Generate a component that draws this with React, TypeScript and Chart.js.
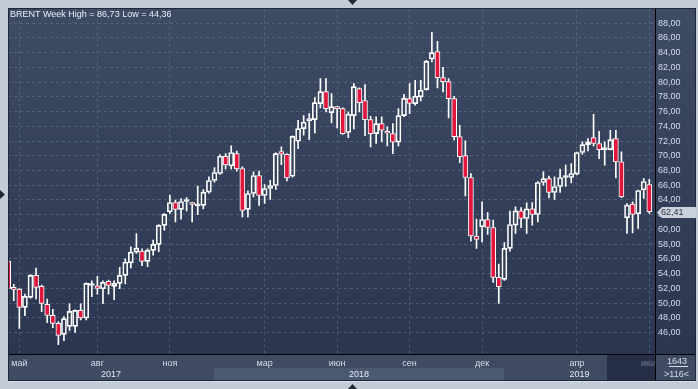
import React, { useEffect, useRef } from 'react';
import { Chart, registerables } from 'chart.js';

Chart.register(...registerables);

// ---- data (weekly Brent candles, index 0 = first visible week) ----
const opens = [
  55.7, 52.15, 51.92, 49.44, 50.79, 53.77, 52.28, 49.84, 48.35, 47.27,
  45.78, 46.86, 46.86, 49.03, 47.99, 52.4, 52.37, 51.96, 52.96, 52.28,
  52.69, 53.77, 55.48, 56.93, 57.07, 55.67, 57.16, 57.97, 60.55, 62.4,
  63.66, 62.72, 63.8, 63.66, 63.2, 63.26, 65.06, 66.64, 67.59, 69.94,
  68.63, 70.3, 68.27, 62.72, 64.88, 67.32, 64.61, 65.56, 65.97, 70.57,
  70.21, 67.22, 71.97, 73.69, 74.73, 74.91, 77.08, 78.7, 75.86, 76.63,
  76.4, 73.15, 75.45, 79.11, 77.48, 74.91, 73.01, 74.37, 73.33, 73.01,
  71.84, 75.45, 77.75, 77.08, 77.98, 78.97, 83.13, 84.12, 80.6, 80.06,
  77.75, 72.6, 70.03, 67.05, 59.1, 60.36, 61.36, 60.27, 53.5, 53.23,
  57.43, 60.59, 62.53, 61.49, 62.8, 62.03, 66.37, 66.91, 65.02, 65.83,
  67.05, 67.05, 67.5, 70.44, 71.52, 72.47, 71.66, 70.84, 70.84, 72.33,
  69.17, 61.58, 63.44, 62.12, 65.38, 66.1,
];
const highs = [
  56.0, 52.55, 52.0, 51.24, 53.9, 54.77, 52.46, 50.57, 49.17, 47.5,
  48.17, 49.93, 49.1, 49.93, 52.75, 53.05, 53.64, 53.05, 53.14, 53.05,
  54.86, 56.03, 57.66, 59.46, 57.39, 57.39, 58.56, 60.68, 62.17, 64.66,
  63.98, 64.2, 64.34, 63.7, 65.88, 65.43, 67.14, 68.41, 70.17, 70.3,
  71.34, 70.62, 68.5, 65.24, 67.82, 67.91, 66.1, 66.68, 70.4, 71.2,
  70.3, 72.7, 74.81, 75.45, 75.72, 77.89, 80.47, 80.47, 78.43, 76.7,
  76.5, 75.95, 79.79, 79.2, 79.65, 75.36, 75.27, 75.27, 73.92, 74.37,
  76.4, 78.32, 79.79, 80.24, 80.24, 82.95, 86.73, 85.52, 82.0, 80.46,
  78.07, 74.14, 72.02, 67.59, 61.4, 63.75, 62.31, 61.27, 55.31, 58.24,
  62.49, 63.07, 62.98, 63.62, 63.66, 66.5, 67.82, 67.23, 67.14, 68.18,
  68.72, 68.95, 70.5, 71.88, 72.33, 75.63, 73.33, 71.88, 73.46, 73.46,
  70.53, 63.53, 63.75, 65.35, 66.91, 66.82,
];
const lows = [
  51.8, 50.34, 46.59, 48.31, 50.7, 50.57, 48.85, 47.36, 46.68, 44.36,
  44.92, 46.32, 46.05, 47.72, 47.72, 50.88, 51.24, 49.93, 51.24, 50.47,
  51.96, 52.6, 54.77, 56.75, 55.08, 54.95, 56.53, 56.98, 59.92, 62.17,
  61.04, 61.41, 62.53, 61.04, 62.0, 62.8, 64.93, 66.42, 67.46, 68.23,
  68.23, 67.91, 61.72, 61.72, 64.43, 63.26, 63.53, 64.07, 65.42, 68.8,
  66.6, 67.1, 70.97, 72.78, 72.2, 73.1, 76.49, 75.95, 74.46, 73.78,
  72.9, 72.47, 73.65, 75.95, 72.74, 71.21, 71.66, 71.88, 71.34, 70.3,
  71.34, 75.3, 75.72, 76.85, 77.44, 78.9, 82.72, 79.2, 78.66, 75.13,
  72.15, 69.08, 64.56, 58.42, 57.43, 58.33, 59.33, 52.82, 49.98, 53.1,
  57.07, 59.46, 60.23, 59.46, 60.59, 61.04, 66.01, 64.29, 64.07, 65.02,
  65.83, 66.33, 67.4, 70.21, 70.66, 71.34, 69.62, 68.72, 70.8, 67.0,
  64.3, 59.46, 59.55, 60.14, 64.2, 62.17,
];
const closes = [
  52.0, 51.87, 49.44, 50.93, 53.77, 52.15, 49.98, 48.35, 47.27, 45.64,
  47.9, 48.89, 49.03, 47.99, 52.69, 52.55, 52.0, 52.82, 52.42, 52.69,
  53.77, 55.58, 56.93, 57.48, 55.67, 57.16, 57.97, 60.55, 62.04, 63.66,
  62.72, 63.8, 63.85, 63.39, 63.25, 65.06, 66.64, 67.73, 69.94, 68.77,
  70.44, 68.23, 62.58, 64.88, 67.32, 64.61, 65.56, 65.97, 70.3, 70.21,
  67.0, 72.64, 73.69, 74.55, 75.05, 77.21, 78.7, 76.4, 76.67, 76.4,
  73.01, 75.63, 79.38, 77.21, 74.91, 73.01, 74.37, 73.46, 73.06, 71.84,
  75.45, 77.78, 77.1, 78.07, 78.88, 82.81, 83.99, 80.6, 80.06, 77.75,
  72.6, 69.89, 67.05, 59.14, 58.65, 61.36, 60.27, 53.5, 52.23, 57.43,
  60.68, 62.53, 61.49, 62.8, 62.03, 66.37, 66.91, 65.02, 65.83, 67.05,
  67.1, 67.59, 70.44, 71.52, 71.88, 71.66, 70.84, 70.9, 72.2, 69.17,
  64.43, 63.3, 62.03, 65.29, 66.51, 62.41,
];

const monthTickIdx = [2, 16, 29, 46, 59, 72, 85, 102, 115];
const monthTickLabels = ['май', 'авг', 'ноя', 'мар', 'июн', 'сен', 'дек', 'апр', 'июл'];
const yearLabels = ['2017', '2018', '2019'];
const yearBandStart = [-0.04, 36.9, 88.9];
const yearBandEnd = [36.9, 88.9, 116.02];
const yTickValues = [46, 48, 50, 52, 54, 56, 58, 60, 62, 64, 66, 68, 70, 72, 74, 76, 78, 80, 82, 84, 86, 88];
const titleText = 'BRENT Week High = 86,73 Low = 44,36';
const totalBarsText = '1643';
const visibleBarsText = '>116<';

// ---- styles ----
const FONT = '"Liberation Sans", Arial, sans-serif';
const RED = '#e0163c';
const GRID = 'rgba(120,135,160,0.42)';
const LABEL = '#d3ddeb';
const OUTER = '#c4ccd8';
const AXIS_BG = '#3f4b63';
const YEAR_HI = '#4c5972';
const DARK = '#262f47';

const fmt = (v: number) => v.toFixed(2).replace('.', ',');

const framePlugin = {
  id: 'frame',
  beforeDraw(chart: any) {
    const { ctx } = chart;
    const xs = chart.scales.x;
    ctx.save();
    ctx.fillStyle = OUTER;
    ctx.fillRect(0, 0, 698, 389);
    // panel gradient
    const g = ctx.createLinearGradient(0, 8, 0, 354);
    g.addColorStop(0, '#3e4b64');
    g.addColorStop(1, '#2b3651');
    ctx.fillStyle = g;
    ctx.fillRect(8, 8, 688, 346);
    // bottom axis area
    ctx.fillStyle = AXIS_BG;
    ctx.fillRect(8, 354, 688, 27);
    // year band
    for (let k = 0; k < yearLabels.length; k++) {
      const x0 = Math.max(8, Math.round(xs.getPixelForValue(yearBandStart[k])));
      const x1 = Math.min(655, Math.round(xs.getPixelForValue(yearBandEnd[k])));
      if (k % 2 === 1) {
        ctx.fillStyle = YEAR_HI;
        ctx.fillRect(x0, 368, x1 - x0, 13);
      }
      ctx.fillStyle = '#e4ebf5';
      ctx.font = `9px ${FONT}`;
      ctx.textAlign = 'center';
      ctx.textBaseline = 'middle';
      ctx.fillText(yearLabels[k], (x0 + x1) / 2, 374.5);
    }
    // dark scroller region
    ctx.fillStyle = DARK;
    ctx.fillRect(607, 355, 48, 26);
    // light line below panel
    ctx.fillStyle = '#d6dde7';
    ctx.fillRect(8, 381, 688, 1);
    // triangles
    ctx.fillStyle = '#1f2736';
    ctx.beginPath();
    ctx.moveTo(348, 0); ctx.lineTo(357, 0); ctx.lineTo(352.5, 5); ctx.closePath(); ctx.fill();
    ctx.beginPath();
    ctx.moveTo(348, 389); ctx.lineTo(357, 389); ctx.lineTo(352.5, 384); ctx.closePath(); ctx.fill();
    ctx.beginPath();
    ctx.moveTo(0, 190); ctx.lineTo(0, 199); ctx.lineTo(5, 194.5); ctx.closePath(); ctx.fill();
    ctx.restore();
  },
  afterDraw(chart: any) {
    const { ctx } = chart;
    const ys = chart.scales.y;
    ctx.save();
    // corner box
    ctx.fillStyle = AXIS_BG;
    ctx.fillRect(656, 355, 40, 26);
    ctx.fillStyle = LABEL;
    ctx.font = `9px ${FONT}`;
    ctx.textAlign = 'center';
    ctx.textBaseline = 'middle';
    ctx.fillText(totalBarsText, 677, 361.5);
    ctx.fillRect(669, 366, 19, 1);
    ctx.fillText(visibleBarsText, 676.5, 374.5);
    // axis lines
    ctx.fillStyle = '#000000';
    ctx.fillRect(8, 354, 688, 1);
    ctx.fillRect(655, 8, 1, 373);
    // panel border
    ctx.strokeStyle = '#1f2738';
    ctx.lineWidth = 1;
    ctx.strokeRect(8.5, 8.5, 687, 372);
    // title
    ctx.fillStyle = '#e8eef6';
    ctx.textAlign = 'left';
    ctx.fillText(titleText, 10, 15);
    // last price marker
    const last = closes[closes.length - 1];
    const y = Math.round(ys.getPixelForValue(last)) + 0.5;
    ctx.fillStyle = '#ccd2db';
    ctx.beginPath();
    ctx.moveTo(657, y);
    ctx.lineTo(662, y - 5.5);
    ctx.lineTo(696, y - 5.5);
    ctx.lineTo(696, y + 5.5);
    ctx.lineTo(662, y + 5.5);
    ctx.closePath();
    ctx.fill();
    ctx.fillStyle = '#2c3340';
    ctx.textAlign = 'left';
    ctx.fillText(fmt(last), 661, y);
    ctx.restore();
  },
};

export default function App() {
  const ref = useRef<HTMLCanvasElement>(null);
  useEffect(() => {
    const canvas = ref.current;
    if (!canvas) return;
    const idx = closes.map((_, i) => i);
    const bodies = idx.map((i) => ({ x: i, y: [opens[i], closes[i]] }));
    const upper = idx.map((i) => ({ x: i, y: [Math.max(opens[i], closes[i]), highs[i]] }));
    const lower = idx.map((i) => ({ x: i, y: [lows[i], Math.min(opens[i], closes[i])] }));
    const chart = new Chart(canvas, {
      type: 'bar',
      data: {
        datasets: [
          {
            data: bodies as any,
            order: 0,
            barThickness: 5,
            minBarLength: 2,
            backgroundColor: idx.map((i) => (closes[i] < opens[i] ? RED : 'rgba(0,0,0,0)')),
            borderColor: '#ffffff',
            borderWidth: 1,
            borderSkipped: false,
            grouped: false,
            clip: 0,
          } as any,
          {
            data: upper as any,
            order: 1,
            barThickness: 1,
            backgroundColor: '#ffffff',
            borderWidth: 0,
            grouped: false,
            clip: 0,
          } as any,
          {
            data: lower as any,
            order: 1,
            barThickness: 1,
            backgroundColor: '#ffffff',
            borderWidth: 0,
            grouped: false,
            clip: 0,
          } as any,
        ],
      },
      options: {
        responsive: false,
        animation: false,
        devicePixelRatio: 1,
        layout: { padding: { left: 8, top: 8, right: 2, bottom: 8 } },
        plugins: { legend: { display: false }, tooltip: { enabled: false }, title: { display: false } },
        scales: {
          x: {
            type: 'linear',
            min: -0.036,
            max: 116.02,
            bounds: 'data',
            offset: false,
            afterBuildTicks: (s: any) => {
              s.ticks = monthTickIdx.map((v) => ({ value: v }));
            },
            afterFit: (s: any) => {
              s.height = 27;
            },
            grid: { color: GRID, drawTicks: false, offset: false, lineWidth: 1 },
            border: { display: false, dash: [3, 3] },
            ticks: {
              autoSkip: false,
              maxRotation: 0,
              minRotation: 0,
              padding: 4,
              font: { family: FONT, size: 9 },
              color: (c: any) => (c.tick && c.tick.value === 115 ? '#6e7a90' : LABEL),
              callback: (v: any) => {
                const k = monthTickIdx.indexOf(Number(v));
                return k >= 0 ? monthTickLabels[k] : '';
              },
            },
          },
          y: {
            position: 'right',
            min: 43.11,
            max: 89.99,
            bounds: 'data',
            beginAtZero: false,
            afterBuildTicks: (s: any) => {
              s.ticks = yTickValues.map((v) => ({ value: v }));
            },
            afterFit: (s: any) => {
              s.width = 41;
            },
            grid: { color: GRID, drawTicks: false, lineWidth: 1 },
            border: { display: false, dash: [3, 3] },
            ticks: {
              padding: 3,
              font: { family: FONT, size: 9 },
              color: LABEL,
              callback: (v: any) => fmt(Number(v)),
            },
          },
        },
      } as any,
      plugins: [framePlugin],
    });
    return () => chart.destroy();
  }, []);
  return (
    <div style={{ position: 'fixed', left: 0, top: 0, width: 698, height: 389 }}>
      <canvas ref={ref} width={698} height={389} style={{ display: 'block', width: 698, height: 389 }} />
    </div>
  );
}
